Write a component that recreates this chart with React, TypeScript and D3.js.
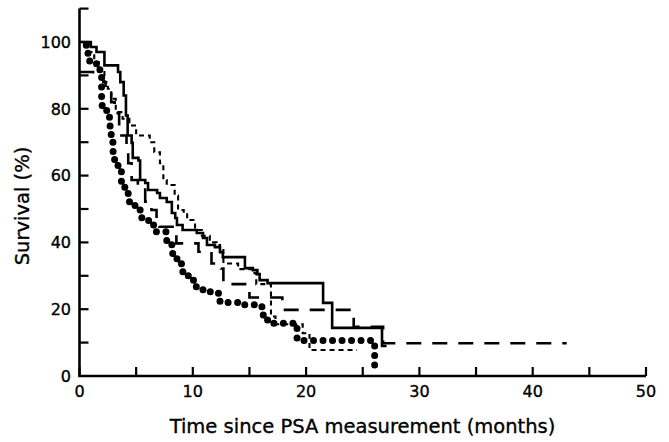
import React from "react";
import * as d3 from "d3";

const W = 669;
const H = 442;

// Tick values
const xTicks = [0, 5, 10, 15, 20, 25, 30, 35, 40, 45, 50];
const xLabels = [0, 10, 20, 30, 40, 50];
const yTicks = [10, 20, 30, 40, 50, 60, 70, 80, 90, 100, 110];
const yLabels = [0, 20, 40, 60, 80, 100];

// Series 1: solid
const solidT = [0, 1.0, 1.5, 2.2, 3.4, 3.6, 3.9, 4.1, 4.25, 4.6, 4.7, 5.2, 5.35, 5.8, 6.05, 6.85, 7.1, 7.7, 8.15, 8.45, 8.6, 9.1, 10.35, 10.9, 11.25, 11.95, 12.4, 12.65, 14.6, 15.3, 15.7, 15.9, 16.6, 21.5, 22.3, 26.7, 27.1];
const solidS = [100, 98.5, 97, 93, 91, 88, 84, 78, 72, 69.8, 65.3, 64.5, 58.7, 57.8, 55.7, 54.8, 53.3, 52.1, 48.8, 47.3, 45.2, 43.7, 42.8, 41.3, 39.2, 38.6, 37.1, 35.6, 32.3, 31.7, 30.5, 28.7, 27.8, 21.9, 14.4, 9.0, 9.0];

// Series 2: long dash
const longT = [0, 1.2, 2.1, 2.3, 2.8, 3.1, 3.5, 3.7, 4.15, 4.3, 4.6, 5.15, 5.8, 6.35, 6.8, 7.05, 8.55, 10.5, 11.65, 12.5, 12.7, 15.0, 17.9, 24.2, 26.8, 43.0];
const longS = [91, 89.5, 88, 86, 82, 78.7, 74, 72, 67.7, 63.7, 58.7, 56.2, 52.2, 49.7, 46.7, 44.7, 39.7, 37.2, 33.7, 32.2, 27.5, 23.5, 19.8, 14.7, 9.8, 9.8];

// Series 3: short dash
const shortT = [0, 0.8, 1.3, 1.7, 2.2, 2.5, 2.8, 3.2, 3.8, 4.4, 5.0, 6.2, 6.6, 7.1, 7.4, 7.7, 8.4, 8.7, 9.2, 9.5, 10.2, 10.8, 11.5, 12.1, 12.4, 12.7, 14.0, 15.3, 15.6, 16.9, 17.3, 19.7, 20.3, 24.5];
const shortS = [100, 97, 94, 91, 88, 86, 83, 79, 77, 75, 72, 70, 67, 63.7, 58.7, 57.2, 54, 49.7, 48.7, 46.7, 43.7, 42, 40, 39.2, 38.2, 33.7, 32, 30.8, 27.5, 17.8, 15.5, 12.8, 7.8, 7.8];

// Series 4: dots
const dotT = [0.6, 0.75, 0.9, 1.5, 1.8, 1.95, 2.4, 2.7, 2.8, 2.95, 3.1, 3.4, 3.7, 4.0, 4.3, 4.9, 5.5, 6.1, 6.7, 7.7, 8.15, 8.6, 9.0, 9.6, 10.2, 10.9, 11.8, 12.4, 14.5, 16.1, 16.6, 19.2, 26.05, 26.1];
const dotS = [99, 96.5, 94, 93, 91, 81, 77.5, 74, 70.7, 67.2, 64.2, 61.2, 58.2, 55.2, 52.2, 49.7, 47.2, 45.2, 43.2, 39.7, 36.7, 34.2, 31.2, 28.7, 26.7, 25.2, 24.8, 22.0, 21.3, 18.3, 15.8, 10.6, 1.5, 1.5];

const FONT = "'DejaVu Sans', Verdana, sans-serif";

export default function App() {
  const x = d3.scaleLinear().domain([0, 50]).range([79.5, 646]);
  const y = d3.scaleLinear().domain([0, 100]).range([376, 42]);

  const line = d3
    .line<[number, number]>()
    .x((d) => x(d[0]))
    .y((d) => y(d[1]))
    .curve(d3.curveStepAfter);

  const zip = (t: number[], s: number[]) => t.map((v, i) => [v, s[i]] as [number, number]);

  const series = [
    { d: line(zip(longT, longS)), dash: "15 11", w: 2.6, cap: "butt" },
    { d: line(zip(shortT, shortS)), dash: "5 4", w: 2.1, cap: "butt" },
    { d: line(zip(dotT, dotS)), dash: "0 9.5", w: 7, cap: "round" },
    { d: line(zip(solidT, solidS)), dash: "none", w: 2.6, cap: "butt" },
  ];

  const txt = { fill: "#000", stroke: "#000", strokeWidth: 0.35 };

  return (
    <svg
      width={W}
      height={H}
      style={{ position: "absolute", left: 0, top: 0, background: "#fff" }}
      fontFamily={FONT}
    >
      <rect x={0} y={0} width={W} height={H} fill="#fff" />
      {series.map((s, i) => (
        <path
          key={i}
          d={s.d || ""}
          fill="none"
          stroke="#000"
          strokeWidth={s.w}
          strokeDasharray={s.dash}
          strokeLinecap={s.cap as any}
          strokeLinejoin="miter"
        />
      ))}
      {/* y axis */}
      <line x1={x(0)} x2={x(0)} y1={y(0)} y2={y(110)} stroke="#000" strokeWidth={2.6} />
      {yTicks.map((v) => (
        <line key={v} x1={x(0)} x2={x(0) + 9} y1={y(v)} y2={y(v)} stroke="#000" strokeWidth={2.2} />
      ))}
      {yLabels.map((v) => (
        <text key={v} x={71} y={y(v)} dy="0.36em" textAnchor="end" fontSize={16} {...txt}>
          {v}
        </text>
      ))}
      {/* x axis */}
      <line x1={x(0) - 1.3} x2={x(50)} y1={y(0)} y2={y(0)} stroke="#000" strokeWidth={2.6} />
      {xTicks.map((v) => (
        <line key={v} x1={x(v)} x2={x(v)} y1={y(0)} y2={y(0) - 9} stroke="#000" strokeWidth={2.2} />
      ))}
      {xLabels.map((v) => (
        <text key={v} x={x(v)} y={397} textAnchor="middle" fontSize={16} {...txt}>
          {v}
        </text>
      ))}
      <text x={362.5} y={433} textAnchor="middle" fontSize={19.5} {...txt}>
        Time since PSA measurement (months)
      </text>
      <text
        transform={`translate(29,206) rotate(-90)`}
        textAnchor="middle"
        fontSize={19.5}
        {...txt}
      >
        Survival (%)
      </text>
    </svg>
  );
}
